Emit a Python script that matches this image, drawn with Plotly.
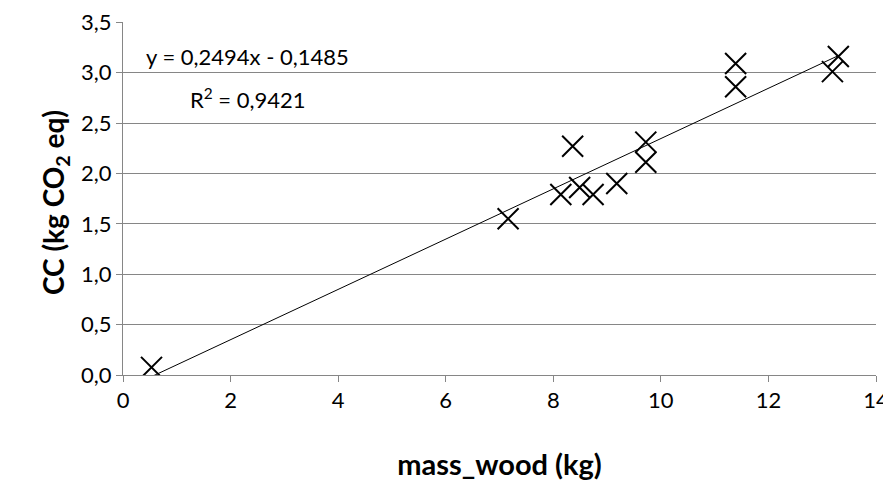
import plotly.graph_objects as go

# Data
mass_wood = [0.53, 7.16, 8.14, 8.49, 8.74, 9.18, 8.36, 9.72, 9.72, 11.39, 11.39, 13.19, 13.30]
cc_values = [0.076, 1.55, 1.79, 1.86, 1.79, 1.90, 2.27, 2.31, 2.11, 3.09, 2.86, 3.01, 3.16]
slope = 0.2494
intercept = -0.1485
r_squared = 0.9421
x_ticks = [0, 2, 4, 6, 8, 10, 12, 14]
y_ticks = [0.0, 0.5, 1.0, 1.5, 2.0, 2.5, 3.0, 3.5]

x_min, x_max = min(mass_wood), max(mass_wood)
trend_x = [x_min, x_max]
trend_y = [slope * v + intercept for v in trend_x]

FONT = "Lato"

# page offset of the body (browser default margin)
OFF = 8
W, H = 891, 492
# target plot area in page pixels: x 123..876, y 22..375
PL, PR, PT, PB = 123, 876, 22, 375
L = PL - OFF
T = PT - OFF
R = W - (PR - OFF)
B = H - (PB - OFF)
pw, ph = PR - PL, PB - PT

fig = go.Figure()
fig.add_trace(go.Scatter(
    x=trend_x, y=trend_y, mode="lines",
    line=dict(color="black", width=1), showlegend=False, hoverinfo="skip"))
fig.add_trace(go.Scatter(
    x=mass_wood, y=cc_values, mode="markers",
    marker=dict(symbol="x-thin-open", size=21, color="black",
                line=dict(color="black", width=2)),
    showlegend=False))

def fmt(v):
    return f"{v:.4f}".replace(".", ",")

def px_to_paper(px, py):
    return (px - PL) / pw, 1 - (py - PT) / ph

ax, ay = px_to_paper(247, 57)
fig.add_annotation(
    x=ax, y=ay, xref="paper", yref="paper", showarrow=False,
    xanchor="center", yanchor="middle",
    text=f"y = {fmt(slope)}x - {fmt(abs(intercept))}",
    font=dict(family=FONT, size=22, color="black"))
ax, ay = px_to_paper(248, 98)
fig.add_annotation(
    x=ax, y=ay, xref="paper", yref="paper", showarrow=False,
    xanchor="center", yanchor="middle",
    text=f"R<sup>2</sup> = {fmt(r_squared)}",
    font=dict(family=FONT, size=22, color="black"))

# y-axis title placed as a rotated annotation
ax, ay = px_to_paper(55, 203)
fig.add_annotation(
    x=ax, y=ay, xref="paper", yref="paper", showarrow=False,
    xanchor="center", yanchor="middle", textangle=-90,
    text="<b>CC (kg CO<sub>2</sub> eq)</b>",
    font=dict(family=FONT, size=28, color="black"))

fig.update_layout(
    width=W, height=H,
    margin=dict(l=L, r=R, t=T, b=B, autoexpand=False),
    paper_bgcolor="white", plot_bgcolor="white",
    separators=", ",
    font=dict(family=FONT, size=22, color="black"),
    xaxis=dict(
        range=[0, 14], tickvals=x_ticks, showgrid=False, zeroline=False,
        showline=True, linecolor="#868686", linewidth=1,
        ticks="outside", ticklen=6, tickcolor="#868686",
        automargin=False,
        title=dict(text="<b>mass_wood (kg)</b>", font=dict(family=FONT, size=29), standoff=42),
        tickfont=dict(family=FONT, size=22)),
    yaxis=dict(
        range=[0, 3.502], tickvals=y_ticks, tickformat=".1f",
        showgrid=True, gridcolor="#868686", gridwidth=1, zeroline=False,
        showline=True, linecolor="#868686", linewidth=1,
        ticks="outside", ticklen=6, tickcolor="#868686",
        automargin=False, ticklabeloverflow="allow",
        tickfont=dict(family=FONT, size=22)),
)

fig.write_html("out.html")
